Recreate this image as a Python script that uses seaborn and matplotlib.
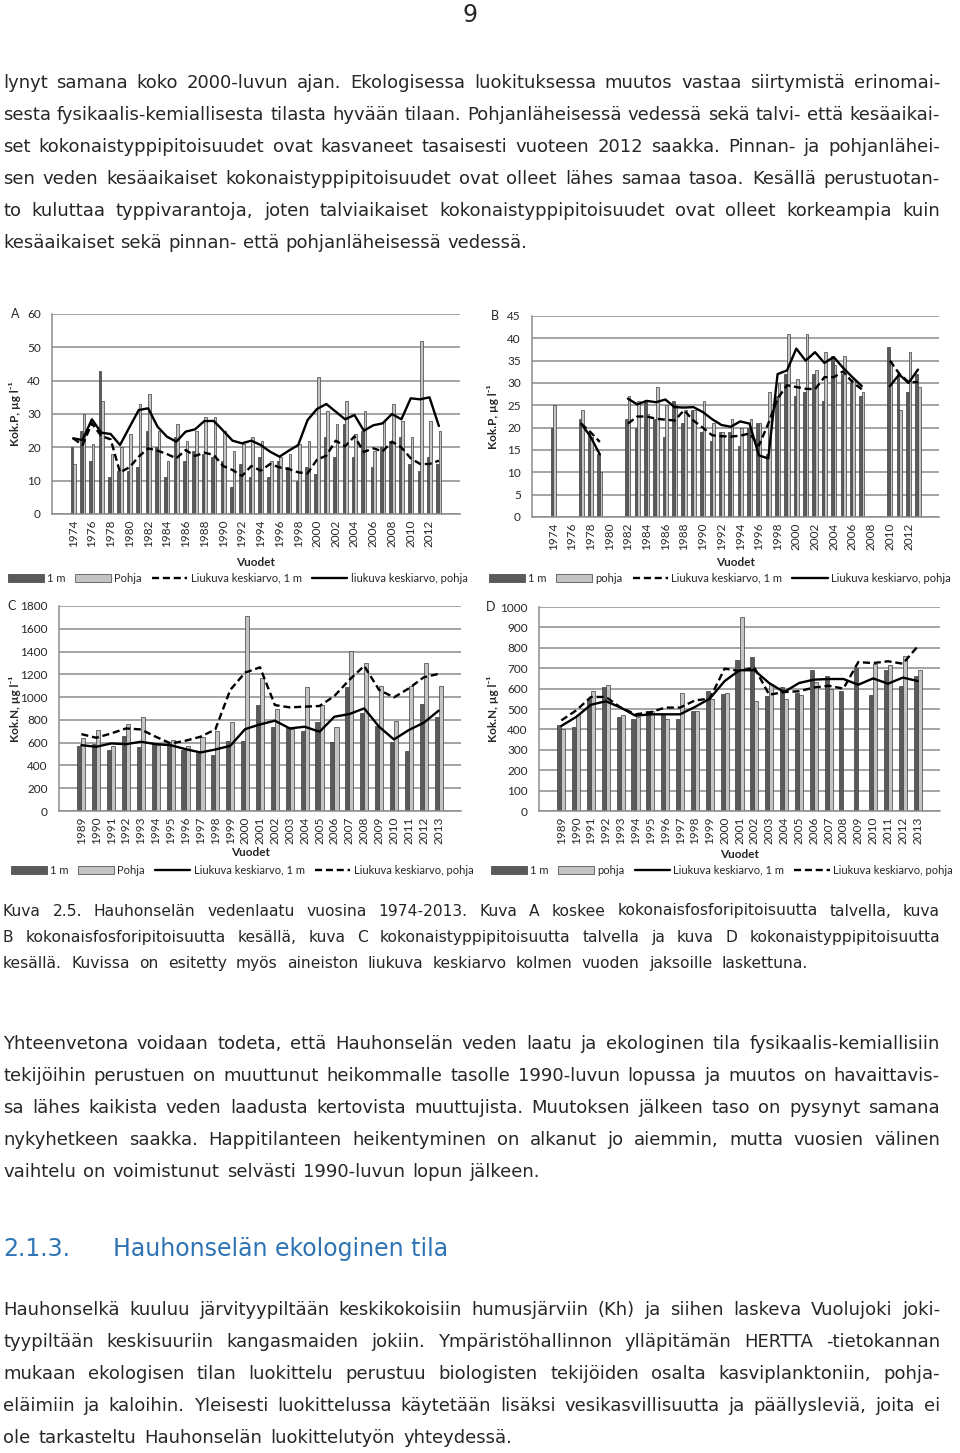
import numpy as np
import pandas as pd
import matplotlib
matplotlib.use("Agg")
import matplotlib.pyplot as plt
import seaborn as sns
from matplotlib.patches import Patch
from matplotlib.lines import Line2D

# --- data ---
years_ab = list(range(1974, 2014))
years_cd = list(range(1989, 2014))
nan = np.nan

# A: kokonaisfosfori, talvi
a_1m = [20, 25, 16, 43, 11, 13, 13, 14, 25, 20, 11, 23, 16, 19, 18, 17, 16, 8, 15, 11,
        17, 11, 16, 14, 10, 14, 12, 23, 17, 27, 17, 25, 14, 20, 22, 23, 15, 13, 17, 15]
a_pohja = [15, 30, 21, 34, 18, 20, 24, 33, 36, 25, 16, 27, 22, 25, 29, 29, 25, 19, 21, 23,
           22, 16, 17, 18, 21, 22, 41, 31, 27, 34, 24, 31, 19, 28, 33, 28, 23, 52, 28, 25]
a_ma_1m = [22.7, 20.7, 27.2, 23.4, 22.4, 12.5, 14.0, 17.2, 19.7, 19.0,
           18.0, 16.7, 19.2, 17.4, 18.4, 17.7, 14.4, 13.2, 11.4, 14.4,
           13.0, 15.0, 14.0, 13.5, 12.5, 12.2, 16.3, 17.5, 22.0, 20.3,
           23.3, 18.6, 19.7, 18.8, 21.7, 20.0, 16.7, 15.0, 15.0, 16.0]
a_ma_pohja = [22.7, 22.2, 28.4, 24.4, 24.0, 20.7, 26.0, 31.2, 31.7, 26.2,
              23.2, 21.7, 24.7, 25.4, 27.9, 27.9, 25.0, 22.0, 21.2, 22.0,
              20.7, 18.7, 17.2, 19.0, 20.7, 28.2, 31.5, 33.0, 30.7, 28.4,
              29.7, 25.0, 26.6, 27.2, 30.0, 28.4, 34.7, 34.4, 35.0, 26.4]

# B: kokonaisfosfori, kesä
b_1m = [20, nan, nan, 22, 19, 14, nan, nan, 22, 20, 26, 22, 18, 26, 21, 24, 19, 17, 19, 19,
        16, 20, 21, 14, 27, 32, 27, 28, 32, 26, 36, 32, 30, 27, nan, nan, 38, 32, 28, 32]
b_pohja = [25, nan, nan, 24, 18, 10, nan, nan, 27, 26, 23, 29, 25, 25, 24, 24, 26, 21, 19, 22,
           20, 22, 21, 28, 30, 41, 31, 41, 33, 37, 34, 36, 31, 28, nan, nan, 35, 24, 37, 29]
b_ma_1m = [nan, nan, nan, 20.9, 19.0, 16.8, nan, nan, 20.9, 22.5,
           22.5, 22.0, 21.8, 21.6, 23.9, 21.6, 20.0, 18.3, 18.1, 18.0,
           18.2, 18.7, 16.0, 20.9, 26.5, 29.5, 29.1, 28.7, 28.6, 31.3,
           31.3, 32.6, 30.2, 28.6, nan, nan, 35.0, 32.1, 30.2, 30.2]
b_ma_pohja = [nan, nan, nan, 20.9, 18.0, 14.0, nan, nan, 26.5, 25.2,
              26.0, 25.7, 26.3, 24.6, 24.5, 24.6, 23.5, 21.9, 20.6, 20.2,
              21.4, 20.9, 13.8, 13.1, 32.0, 32.8, 37.7, 35.0, 36.9, 34.5,
              35.8, 33.4, 31.3, 29.3, nan, nan, 29.3, 31.9, 30.0, 33.0]

# C: kokonaistyppi, talvi
c_1m = [570, 585, 540, 660, 562, 592, 572, 540, 511, 490, 614, 617, 930, 734, 734,
        705, 778, 608, 1092, 860, 749, 602, 528, 940, 822]
c_pohja = [640, 710, 570, 760, 822, 578, 622, 570, 652, 700, 781, 1712, 1171, 898, 716,
           1089, 930, 734, 1409, 1298, 1101, 790, 1101, 1298, 1101]
c_ma_1m = [578, 564, 593, 587, 608, 587, 578, 543, 514, 540, 572, 719, 760, 793, 725,
           740, 696, 828, 851, 901, 740, 628, 711, 775, 881]
c_ma_pohja = [675, 643, 681, 725, 716, 652, 593, 617, 652, 716, 1063, 1215, 1262, 930, 910,
              916, 922, 1010, 1151, 1274, 1063, 998, 1077, 1174, 1204]

# D: kokonaistyppi, kesä
d_1m = [420, 410, 550, 610, 460, 450, 490, 470, 450, 490, 590, 575, 740, 755, 565,
        610, 580, 690, 660, 590, 700, 570, 690, 615, 660]
d_pohja = [400, 470, 590, 620, 470, 460, 490, 450, 580, 490, 550, 580, 950, 540, 625,
           550, 570, 630, 600, nan, nan, 720, 715, 760, 690]
d_ma_1m = [417, 461, 521, 538, 507, 467, 474, 474, 474, 510, 551, 637, 690, 690, 627,
           583, 627, 644, 647, 647, 619, 650, 624, 654, 637]
d_ma_pohja = [444, 493, 559, 559, 507, 474, 484, 507, 507, 542, 551, 698, 686, 703, 570,
              583, 587, 605, 614, 600, 730, 725, 734, 722, 807]

# --- page text ---
para1 = [
    "lynyt samana koko 2000-luvun ajan. Ekologisessa luokituksessa muutos vastaa siirtymistä erinomai-",
    "sesta fysikaalis-kemiallisesta tilasta hyvään tilaan. Pohjanläheisessä vedessä sekä talvi- että kesäaikai-",
    "set kokonaistyppipitoisuudet ovat kasvaneet tasaisesti vuoteen 2012 saakka. Pinnan- ja pohjanlähei-",
    "sen veden kesäaikaiset kokonaistyppipitoisuudet ovat olleet lähes samaa tasoa. Kesällä perustuotan-",
    "to kuluttaa typpivarantoja, joten talviaikaiset kokonaistyppipitoisuudet ovat olleet korkeampia kuin",
    "kesäaikaiset sekä pinnan- että pohjanläheisessä vedessä.",
]
caption = [
    "Kuva 2.5. Hauhonselän vedenlaatu vuosina 1974-2013. Kuva A koskee kokonaisfosforipitoisuutta talvella, kuva",
    "B kokonaisfosforipitoisuutta kesällä, kuva C kokonaistyppipitoisuutta talvella ja kuva D kokonaistyppipitoisuutta",
    "kesällä. Kuvissa on esitetty myös aineiston liukuva keskiarvo kolmen vuoden jaksoille laskettuna.",
]
para2 = [
    "Yhteenvetona voidaan todeta, että Hauhonselän veden laatu ja ekologinen tila fysikaalis-kemiallisiin",
    "tekijöihin perustuen on muuttunut heikommalle tasolle 1990-luvun lopussa ja muutos on havaittavis-",
    "sa lähes kaikista veden laadusta kertovista muuttujista. Muutoksen jälkeen taso on pysynyt samana",
    "nykyhetkeen saakka. Happitilanteen heikentyminen on alkanut jo aiemmin, mutta vuosien välinen",
    "vaihtelu on voimistunut selvästi 1990-luvun lopun jälkeen.",
]
para3 = [
    "Hauhonselkä kuuluu järvityypiltään keskikokoisiin humusjärviin (Kh) ja siihen laskeva Vuolujoki joki-",
    "tyypiltään keskisuuriin kangasmaiden jokiin. Ympäristöhallinnon ylläpitämän HERTTA -tietokannan",
    "mukaan ekologisen tilan luokittelu perustuu biologisten tekijöiden osalta kasviplanktoniin, pohja-",
    "eläimiin ja kaloihin. Yleisesti luokittelussa käytetään lisäksi vesikasvillisuutta ja päällysleviä, joita ei",
    "ole tarkasteltu Hauhonselän luokittelutyön yhteydessä.",
]

sns.set_style("white")
BODY = ["DejaVu Sans"]
CHART = ["Lato", "DejaVu Sans"]
plt.rcParams["font.family"] = CHART

DARK = "#5a5a5a"
LIGHT = "#c4c4c4"
EDGE = "#3c3c3c"
GRID = "#8c8c8c"
DASH = (0, (3, 1.6))

W, H = 960, 1453
fig = plt.figure(figsize=(W / 100, H / 100), dpi=100)
renderer = fig.canvas.get_renderer()


def fx(x):
    return x / W


def fy(y):
    return 1 - y / H


def panel(rect, years, v_1m, v_pohja, ma_1m, ma_pohja, ymax, ystep, letter, ylabel,
          labels, solid_1m, every, letter_x, ylab_x, leg_xy, vuodet_xy):
    x0, y0, x1, y1 = rect
    ax = fig.add_axes([fx(x0), fy(y1), (x1 - x0) / W, (y1 - y0) / H])
    names = [str(y) for y in years]
    df = pd.DataFrame({
        "Vuosi": names * 2,
        "arvo": list(v_1m) + list(v_pohja),
        "sarja": ["1 m"] * len(years) + ["pohja"] * len(years),
    }).dropna()
    sns.barplot(data=df, x="Vuosi", y="arvo", hue="sarja", order=names,
                hue_order=["1 m", "pohja"], palette=[DARK, LIGHT], width=0.55,
                edgecolor=EDGE, linewidth=0.5, errorbar=None, legend=False,
                ax=ax, zorder=2)
    pos = np.arange(len(years))
    ls_1m, ls_p = ("-", DASH) if solid_1m else (DASH, "-")
    ax.plot(pos, ma_1m, color="black", lw=1.7, ls=ls_1m, zorder=3)
    ax.plot(pos, ma_pohja, color="black", lw=1.7, ls=ls_p, zorder=3)

    ax.set_ylim(0, ymax)
    ax.set_yticks(np.arange(0, ymax + 1, ystep))
    ax.set_axisbelow(True)
    ax.yaxis.grid(True, color=GRID, lw=1.1)
    ax.set_xticks(pos[::every])
    ax.set_xticklabels(names[::every], rotation=90)
    ax.set_xticks(np.arange(-0.5, len(years)), minor=True)
    ax.tick_params(axis="x", which="major", length=0, pad=4, labelsize=8.5)
    ax.tick_params(axis="x", which="minor", length=4, color=GRID, width=1)
    ax.tick_params(axis="y", length=3, color=GRID, width=1, pad=5, labelsize=8.5)
    ax.set_xlabel("")
    ax.set_ylabel("")
    for s in ["top", "right"]:
        ax.spines[s].set_visible(False)
    for s in ["left", "bottom"]:
        ax.spines[s].set_color(GRID)
        ax.spines[s].set_linewidth(1.1)

    fig.text(fx(letter_x), fy(y0), letter, fontsize=9, va="center")
    fig.text(fx(ylab_x), fy((y0 + y1) / 2), ylabel, fontsize=8.5, fontweight="bold",
             rotation=90, ha="center", va="center")
    fig.text(fx(vuodet_xy[0]), fy(vuodet_xy[1]), "Vuodet", fontsize=8.5,
             fontweight="bold", ha="center", va="center")

    handles = [Patch(facecolor=DARK, edgecolor=EDGE, lw=0.5),
               Patch(facecolor=LIGHT, edgecolor=EDGE, lw=0.5),
               Line2D([], [], color="black", lw=1.7, ls=ls_1m),
               Line2D([], [], color="black", lw=1.7, ls=ls_p)]
    fig.legend(handles, labels, loc="center left",
               bbox_to_anchor=(fx(leg_xy[0]), fy(leg_xy[1])), ncol=4, frameon=False,
               fontsize=8, handlelength=3.2, handletextpad=0.3, columnspacing=0.9,
               borderaxespad=0, borderpad=0)
    return ax


panel((52, 314, 460, 514), years_ab, a_1m, a_pohja, a_ma_1m, a_ma_pohja, 60, 10, "A",
      "Kok.P, µg l⁻¹",
      ["1 m", "Pohja", "Liukuva keskiarvo, 1 m", "liukuva keskiarvo, pohja"],
      False, 2, 11, 15, (8, 578), (256, 562))
panel((532, 316, 939, 517), years_ab, b_1m, b_pohja, b_ma_1m, b_ma_pohja, 45, 5, "B",
      "Kok.P, µg l⁻¹",
      ["1 m", "pohja", "Liukuva keskiarvo, 1 m", "Liukuva keskiarvo, pohja"],
      False, 2, 491, 493, (489, 578), (735, 562))
panel((59, 606, 461, 811), years_cd, c_1m, c_pohja, c_ma_1m, c_ma_pohja, 1800, 200, "C",
      "Kok.N, µg l⁻¹",
      ["1 m", "Pohja", "Liukuva keskiarvo, 1 m", "Liukuva keskiarvo, pohja"],
      True, 1, 7, 15, (11, 870), (250, 853))
panel((539, 607, 940, 811), years_cd, d_1m, d_pohja, d_ma_1m, d_ma_pohja, 1000, 100, "D",
      "Kok.N, µg l⁻¹",
      ["1 m", "pohja", "Liukuva keskiarvo, 1 m", "Liukuva keskiarvo, pohja"],
      True, 1, 486, 493, (491, 870), (740, 854))


def justify(line, y, x1, size, x0=3):
    # spread words so the line runs from x0 to x1 (pixels), like justified text
    words = line.split(" ")
    while True:
        texts = [fig.text(0, fy(y), w, fontsize=size, family=BODY) for w in words]
        widths = [t.get_window_extent(renderer).width for t in texts]
        gap = (x1 - x0 - sum(widths)) / max(len(words) - 1, 1)
        if gap >= size * 0.3 or size < 9:
            break
        for t in texts:
            t.remove()
        size -= 0.2
    x = x0
    for t, w in zip(texts, widths):
        t.set_x(fx(x))
        x += w + gap


fig.text(fx(470), fy(22), "9", fontsize=17, ha="center", family=BODY)

for i, line in enumerate(para1):
    justify(line, 87.5 + 32 * i, 940 if i < 5 else 527, 13)
for i, line in enumerate(caption):
    justify(line, 915.5 + 26.3 * i, 940 if i < 2 else 808, 11.2)
for i, line in enumerate(para2):
    justify(line, 1049 + 32 * i, 940 if i < 4 else 540, 13)

fig.text(fx(3), fy(1256), "2.1.3.", fontsize=17, color="#2e74b5", family=BODY)
fig.text(fx(113), fy(1256), "Hauhonselän ekologinen tila", fontsize=17, color="#2e74b5",
         family=BODY)

for i, line in enumerate(para3):
    justify(line, 1315 + 32 * i, 940 if i < 4 else 512, 13)

fig.savefig("out.png", dpi=100, facecolor="white")
